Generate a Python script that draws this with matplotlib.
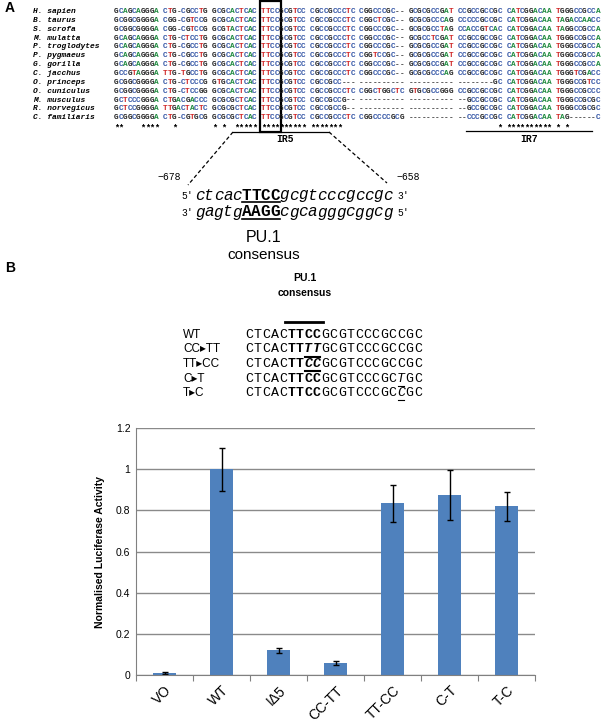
import numpy as np
import matplotlib.pyplot as plt
from matplotlib.patches import Rectangle
from matplotlib.ticker import FuncFormatter

# ---- panel A: alignment data ----
species = ["H. sapien", "B. taurus", "S. scrofa", "M. mulatta", "P. troglodytes",
           "P. pygmaeus", "G. gorilla", "C. jacchus", "O. princeps", "O. cuniculus",
           "M. musculus", "R. norvegicus", "C. familiaris"]
alignment = [
    "GCAGCAGGGA CTG-CGCCTG GCGCACTCAC TTCCGCGTCC CGCCGCCCTC CGGCCCGC-- GCGCGCCGAT CCGCCGCCGC CATCGGACAA TGGGCCGCCA",
    "GCGGCGGGGA CGG-CGTCCG GCGCACTCAC TTCCGCGTCC CGCCGCCCTC CGGCTCGC-- GCGCGCCCAG CCCCCGCCGC CATCGGACAA TAGACCAACC",
    "GCGGCGGGGA CGG-CGTCCG GCGTACTCAC TTCCGCGTCC CGCCGCCCTC CGGCCCGC-- GCGCGCCTAG CCACCGTCAC CATCGGACAA TAGGCCGCCA",
    "GCAGCAGGGA CTG-CTCCTG GCGCACTCAC TTCCGCGTCC CGCCGCCCTC CGGCCCGC-- GCGCCTCGAT CCGCCGCCGC CATCGGACAA TGGGCCGCCA",
    "GCAGCAGGGA CTG-CGCCTG GCGCACTCAC TTCCGCGTCC CGCCGCCCTC CGGCCCGC-- GCGCGCCGAT CCGCCGCCGC CATCGGACAA TGGGCCGCCA",
    "GCAGCAGGGA CTG-CGCCTG GCGCACTCAC TTCCGCGTCC CGCCGCCCTC CGGTCCGC-- GCGCGCCGAT CCGCCGCCGC CATCGGACAA TGGGCCGCCA",
    "GCAGCAGGGA CTG-CGCCTG GCGCACTCAC TTCCGCGTCC CGCCGCCCTC CGGCCCGC-- GCGCGCCGAT CCGCCGCCGC CATCGGACAA TGGGCCGCCA",
    "GCCGTAGGGA TTG-TGCCTG GCGCACTCAC TTCCGCGTCC CGCCGCCCTC CGGCCCGC-- GCGCGCCCAG CCGCCGCCGC CATCGGACAA TGGGTCGACC",
    "GCGGCGGGGA CTG-CTCCCG GTGCACTCAC TTCCGCGTCC CGCCGCC--- ---------- ---------- --------GC CATCGGACAA TGGGCCGTCC",
    "GCGGCGGGGA CTG-CTCCGG GCGCACTCAC TTCCGCGTCC CGCCGCCCTC CGGCTGGCTC GTGCGCCGGG CCGCCGCCGC CATCGGACAA TGGGCCGCCC",
    "GCTCCCGGGA CTGACGACCC GCGCGCTCAC TTCCGCGTCC CGCCGCCG-- ---------- ---------- --GCCGCCGC CATCGGACAA TGGGCCGCGC",
    "GCTCCGGGGA TTGACTACTC GCGCGCTCAC TTCCGCGTCC CGCCGCCG-- ---------- ---------- --GCCGCCGC CATCGGACAA TGGGCCGCGC",
    "GCGGCGGGGA CTG-CGTGCG GCGCGCTCAC TTCCGCGTCC CGCCGCCCTC CGGCCCCGCG ---------- --CCCGCCGC CATCGGACAA TAG------C",
]
base_colors = {"A": "#1e8a3e", "C": "#3456a6", "G": "#1c1c1c", "T": "#d02828", "-": "#333333"}

top_strand = "ctcacTTCCgcgtcccgccgc"
bottom_strand = "gagtgAAGGcgcagggcggcg"

# ---- panel B: mutants and luciferase data ----
mut_labels = ["WT", "CC\u25b8TT", "TT\u25b8CC", "C\u25b8T", "T\u25b8C"]
mut_seqs = ["CTCACTTCCGCGTCCCGCCGC", "CTCACTTTTGCGTCCCGCCGC", "CTCACTTCCGCGTCCCGCCGC",
            "CTCACTTCCGCGTCCCGCTGC", "CTCACTTCCGCGTCCCGCCGC"]
mut_marks = [[], [7, 8], [7, 8], [18], [18]]

groups = ["VO", "WT", "I\u03945", "CC-TT", "TT-CC", "C-T", "T-C"]
activity = [0.01, 1.0, 0.12, 0.058, 0.835, 0.875, 0.82]
errors = [0.003, 0.105, 0.011, 0.008, 0.09, 0.12, 0.07]

W, H = 601, 724
fig = plt.figure(figsize=(W / 100, H / 100), dpi=100)

# bar chart
ax = fig.add_axes([136 / W, (H - 675) / H, (535 - 136) / W, (675 - 428) / H])
x = np.arange(len(groups))
ax.bar(x, activity, width=0.4, color="#4f81bd", zorder=2,
       yerr=errors, capsize=2.5, error_kw=dict(ecolor="black", elinewidth=1, capthick=1))
ax.set_ylim(0, 1.2)
ax.set_xlim(-0.5, len(groups) - 0.5)
ax.set_yticks(np.arange(0, 1.21, 0.2))
ax.yaxis.set_major_formatter(FuncFormatter(lambda v, p: "%g" % round(v, 1)))
ax.yaxis.grid(True, color="#8a8a8a", lw=1)
ax.set_axisbelow(True)
ax.set_xticks(np.arange(-0.5, len(groups), 1))
ax.set_xticklabels([])
ax.set_xticks(x, minor=True)
ax.set_xticklabels(groups, minor=True, rotation=45, ha="right", va="top",
                   rotation_mode="anchor", fontsize=10, family=["Liberation Sans", "DejaVu Sans"])
ax.tick_params(axis="x", which="major", length=4, color="#808080", direction="out")
ax.tick_params(axis="x", which="minor", length=0, pad=6)
ax.tick_params(axis="y", length=0, pad=4, labelsize=7.5)
for t in ax.get_yticklabels():
    t.set_family("Liberation Sans")
for s in ["top", "right"]:
    ax.spines[s].set_visible(False)
for s in ["left", "bottom"]:
    ax.spines[s].set_color("#808080")

# overlay in pixel coordinates for the text panels
ov = fig.add_axes([0, 0, 1, 1])
ov.set_xlim(0, W)
ov.set_ylim(H, 0)
ov.axis("off")
ov.patch.set_alpha(0)

ov.text(10, 8, "A", fontsize=10, fontweight="bold", family="Liberation Sans", va="center", ha="center")
ov.text(10, 268, "B", fontsize=10, fontweight="bold", family="Liberation Sans", va="center", ha="center")

# alignment
x0, pitch, y0, dy = 114, 4.46, 11.5, 8.85
for i, (name, seq) in enumerate(zip(species, alignment)):
    y = y0 + i * dy
    ov.text(33, y, name, fontsize=5.7, family="Liberation Mono", fontweight="bold",
            style="italic", va="center", ha="left")
    for j, ch in enumerate(seq):
        if ch == " ":
            continue
        ov.text(x0 + j * pitch + pitch / 2, y, ch, fontsize=5.6, family="Liberation Mono",
                fontweight="bold", color=base_colors[ch], va="center", ha="center")

# conservation stars
for j in range(len(alignment[0])):
    col = set(r[j] for r in alignment)
    if len(col) == 1 and col.pop() not in " -":
        ov.text(x0 + j * pitch + pitch / 2, y0 + 13 * dy + 1.5, "*", fontsize=6.2,
                family="Liberation Mono", fontweight="bold", va="center", ha="center")

# box around TTCC
bx = x0 + 33 * pitch
ov.add_patch(Rectangle((bx - 1.5, 1), 4 * pitch + 3, 131, fill=False, lw=1.6, ec="black"))

# IR5 / IR7 brackets
ov.plot([233, 329], [132, 132], color="black", lw=0.9)
ov.text(285, 139.5, "IR5", fontsize=7, fontweight="bold", family="Liberation Mono", ha="center", va="center")
ov.plot([466, 592], [131, 131], color="black", lw=0.9)
ov.text(529, 139.5, "IR7", fontsize=7, fontweight="bold", family="Liberation Mono", ha="center", va="center")
ov.plot([233, 188], [132, 185], color="black", lw=0.9, ls=(0, (3, 2)))
ov.plot([329, 387], [132, 183], color="black", lw=0.9, ls=(0, (3, 2)))
ov.text(181, 177, "\u2212678", fontsize=7, family="Liberation Mono", ha="right", va="center")
ov.text(396, 177, "\u2212658", fontsize=7, family="Liberation Mono", ha="left", va="center")

# expanded double strand
sx, sp = 195, 9.4
for row, (seq, l, r) in enumerate([(top_strand, "5\u2032", "3\u2032"), (bottom_strand, "3\u2032", "5\u2032")]):
    y = 195 + row * 17
    ov.text(sx - 2, y + 1, l, fontsize=7, family="Liberation Mono", ha="right", va="center")
    ov.text(sx + len(seq) * sp + 5, y + 1, r, fontsize=7, family="Liberation Mono", ha="left", va="center")
    for j, ch in enumerate(seq):
        up = ch.isupper()
        ov.text(sx + j * sp + sp / 2, y, ch, fontsize=11.5, family="Liberation Mono",
                style="normal" if up else "italic", fontweight="bold" if up else "normal",
                ha="center", va="center")
    ov.plot([sx + 5 * sp, sx + 9 * sp], [y + 7, y + 7], color="black", lw=1.2)
ov.text(264, 237, "PU.1", fontsize=11.5, family="Liberation Sans", ha="center", va="center")
ov.text(264, 255, "consensus", fontsize=11, family="Liberation Sans", ha="center", va="center")

# panel B sequences
ov.text(305, 278, "PU.1", fontsize=7.5, fontweight="bold", family="Liberation Sans", ha="center", va="center")
ov.text(305, 293, "consensus", fontsize=7.5, fontweight="bold", family="Liberation Sans", ha="center", va="center")
mx, mp = 245, 8.43
ov.plot([mx + 5 * mp - 2, mx + 9 * mp + 2], [322, 322], color="black", lw=2)
for i, (lab, seq, marks) in enumerate(zip(mut_labels, mut_seqs, mut_marks)):
    y = 335 + i * 14.5
    ov.text(183, y, lab, fontsize=8.5, family=["Liberation Sans", "DejaVu Sans"], ha="left", va="center")
    for j, ch in enumerate(seq):
        bold = 5 <= j <= 8
        ital = j in marks
        ov.text(mx + j * mp + mp / 2, y, ch, fontsize=9.5, family="Liberation Mono",
                fontweight="bold" if bold else "normal", style="italic" if ital else "normal",
                ha="center", va="center")
    if marks:
        ov.plot([mx + marks[0] * mp + 1, mx + (marks[-1] + 1) * mp - 1], [y + 7, y + 7],
                color="black", lw=1.5 if len(marks) > 1 else 0.8)

ov.text(100, 552, "Normalised Luciferase Activity", fontsize=7.5, fontweight="bold",
        family="Liberation Sans", rotation=90, ha="center", va="center")

fig.savefig("out.png", dpi=100)
